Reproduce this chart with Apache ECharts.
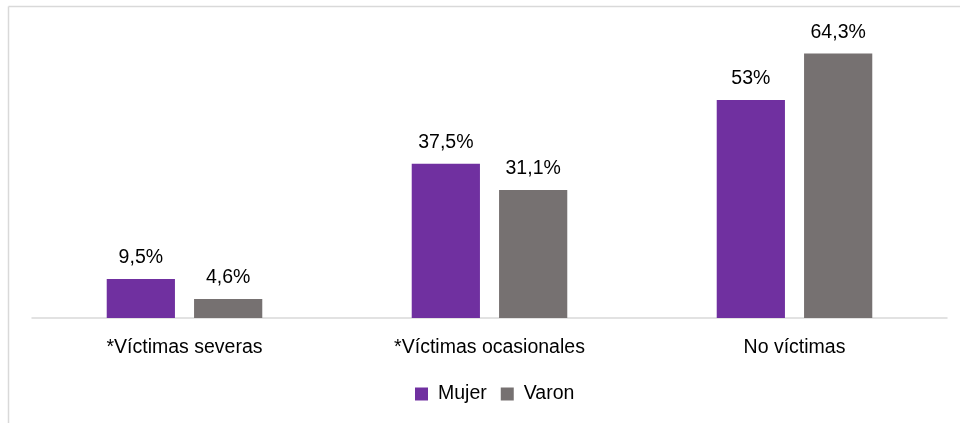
<!DOCTYPE html>
<html>
<head>
<meta charset="utf-8">
<script src="https://cdn.jsdelivr.net/npm/echarts@6/dist/echarts.min.js"></script>
<style>
  html, body { margin: 0; padding: 0; background: #fff; }
  #chart { width: 960px; height: 423px; }
</style>
</head>
<body>
<div id="chart"></div>
<script>
var categories = ["*Víctimas severas", "*Víctimas ocasionales", "No víctimas"];
var mujer = [9.5, 37.5, 53];
var varon = [4.6, 31.1, 64.3];

var fontFam = "'Liberation Sans', Arial, sans-serif";

function pct(p) {
    return String(p.value).replace(".", ",") + "%";
}

var chart = echarts.init(document.getElementById("chart"));
chart.setOption({
    animation: false,
    textStyle: {fontFamily: fontFam},
    graphic: [
        {type: "line", shape: {x1: 8.5, y1: 6.5, x2: 960, y2: 6.5}, style: {stroke: "#d9d9d9", lineWidth: 1.5}},
        {type: "line", shape: {x1: 8.5, y1: 6.5, x2: 8.5, y2: 423}, style: {stroke: "#d9d9d9", lineWidth: 1.5}}
    ],
    legend: {
        bottom: 14,
        left: 410,
        itemWidth: 13,
        itemHeight: 13,
        itemGap: 14,
        icon: "rect",
        textStyle: {fontSize: 19.5, color: "#000", fontFamily: fontFam, padding: [0, 0, 0, 5]},
        data: ["Mujer", "Varon"]
    },
    grid: {left: 32, right: 13, top: 30, bottom: 105, containLabel: false},
    xAxis: {
        type: "category",
        data: categories,
        axisLine: {lineStyle: {color: "#d9d9d9", width: 1.5}},
        axisTick: {show: false},
        axisLabel: {fontSize: 19.5, color: "#000", margin: 20, interval: 0, fontFamily: fontFam}
    },
    yAxis: {
        type: "value",
        min: 0,
        max: 70,
        show: false,
        splitLine: {show: false}
    },
    series: [
        {
            name: "Mujer",
            type: "bar",
            data: mujer,
            barGap: "28%",
            barCategoryGap: "49%",
            itemStyle: {color: "#7030A0"},
            label: {show: true, position: "top", distance: 11, fontSize: 19.5, color: "#000", fontFamily: fontFam, formatter: pct}
        },
        {
            name: "Varon",
            type: "bar",
            data: varon,
            itemStyle: {color: "#767171"},
            label: {show: true, position: "top", distance: 11, fontSize: 19.5, color: "#000", fontFamily: fontFam, formatter: pct}
        }
    ]
});
</script>
</body>
</html>
